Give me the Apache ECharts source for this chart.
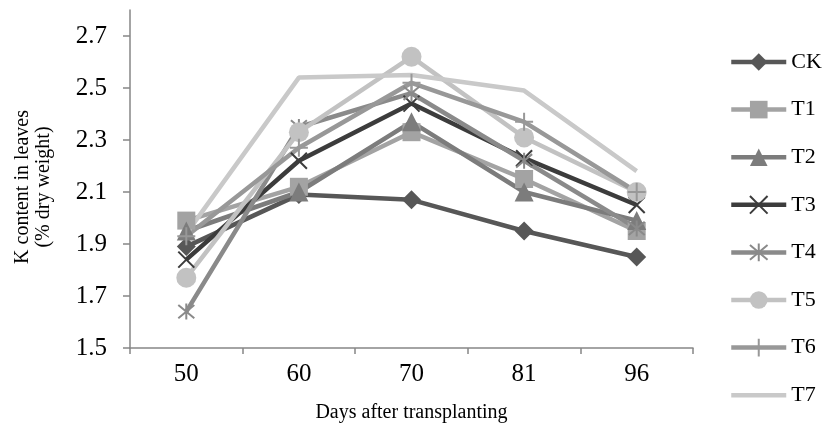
<!DOCTYPE html>
<html>
<head>
<meta charset="utf-8">
<script src="https://cdn.jsdelivr.net/npm/echarts@6/dist/echarts.min.js"></script>
<style>
html,body{margin:0;padding:0;background:#fff;}
#chart{width:830px;height:428px;}
</style>
</head>
<body>
<div id="chart"></div>
<script>
var days = ['50', '60', '70', '81', '96'];
var yTicks = [1.5, 1.7, 1.9, 2.1, 2.3, 2.5, 2.7];
var seriesNames = ['CK', 'T1', 'T2', 'T3', 'T4', 'T5', 'T6', 'T7'];
var CK = [1.89, 2.09, 2.07, 1.95, 1.85];
var T1 = [1.99, 2.12, 2.33, 2.15, 1.95];
var T2 = [1.95, 2.10, 2.37, 2.10, 1.99];
var T3 = [1.84, 2.22, 2.44, 2.23, 2.05];
var T4 = [1.64, 2.35, 2.48, 2.22, 1.96];
var T5 = [1.77, 2.33, 2.62, 2.31, 2.10];
var T6 = [1.93, 2.27, 2.52, 2.37, 2.10];
var T7 = [1.94, 2.54, 2.55, 2.49, 2.18];

var values = [CK, T1, T2, T3, T4, T5, T6, T7];
var colors = ['#575757', '#a3a3a3', '#7c7c7c', '#3c3c3c', '#8a8a8a', '#c2c2c2', '#989898', '#c9c9c9'];
var symbols = [
  'diamond', 'rect', 'triangle',
  'path://M0,0L10,10M10,0L0,10',
  'path://M0,0L10,10M10,0L0,10M5,-1L5,11',
  'circle',
  'path://M0,5L10,5M5,0L5,10',
  'none'
];
var symbolSizes = [19, 18, 19, 16, 16, 20, 18, 0];
var strokeOnly = [false, false, false, true, true, false, true, false];
var plainLineIcon = 'path://M0,0L0,22L0,0ZM0,8.8L55,8.8L55,13.2L0,13.2Z';

var FONT = "'Liberation Serif', 'Times New Roman', serif";

var series = seriesNames.map(function (n, i) {
  return {
    name: n,
    type: 'line',
    data: values[i],
    symbol: symbols[i],
    symbolSize: symbolSizes[i],
    showSymbol: symbols[i] !== 'none',
    lineStyle: { color: colors[i], width: 4.5 },
    itemStyle: strokeOnly[i]
      ? { color: colors[i], borderColor: colors[i], borderWidth: 2 }
      : { color: colors[i] },
    emphasis: { disabled: true },
    animation: false
  };
});

var legendData = seriesNames.map(function (n, i) {
  return symbols[i] === 'none' ? { name: n, icon: plainLineIcon } : { name: n };
});

var chart = echarts.init(document.getElementById('chart'), null, { renderer: 'canvas' });
chart.setOption({
  animation: false,
  backgroundColor: '#ffffff',
  textStyle: { fontFamily: FONT },
  grid: { left: 130, right: 137, top: 10, bottom: 80, outerBoundsMode: 'none', containLabel: false },
  legend: {
    orient: 'vertical',
    left: 729,
    top: 51,
    padding: 0,
    itemWidth: 55,
    itemHeight: 22,
    itemGap: 25.6,
    data: legendData,
    lineStyle: { width: 4.5 },
    textStyle: { fontFamily: FONT, fontSize: 22, color: '#000', lineHeight: 22 }
  },
  xAxis: {
    type: 'category',
    data: days,
    boundaryGap: true,
    name: 'Days after transplanting',
    nameLocation: 'middle',
    nameGap: 55,
    nameTextStyle: { fontFamily: FONT, fontSize: 20, color: '#000' },
    axisLine: { lineStyle: { color: '#868686', width: 1.5 } },
    axisTick: { show: true, length: 6, lineStyle: { color: '#868686', width: 1.5 } },
    axisLabel: { fontFamily: FONT, fontSize: 25, color: '#000', margin: 14 },
    splitLine: { show: false }
  },
  yAxis: {
    type: 'value',
    min: 1.5,
    max: 2.8,
    name: 'K content in leaves\n(% dry weight)',
    nameLocation: 'middle',
    nameRotate: 90,
    nameGap: 76,
    nameTextStyle: { fontFamily: FONT, fontSize: 20, color: '#000', lineHeight: 21, padding: [0, 16, 0, 0] },
    axisLine: { show: true, lineStyle: { color: '#868686', width: 1.5 } },
    axisTick: { show: true, length: 7, customValues: yTicks, lineStyle: { color: '#868686', width: 1.5 } },
    axisLabel: {
      customValues: yTicks,
      fontFamily: FONT, fontSize: 25, color: '#000', margin: 23,
      formatter: function (v) { return v.toFixed(1); }
    },
    splitLine: { show: false }
  },
  series: series
});
</script>
</body>
</html>
